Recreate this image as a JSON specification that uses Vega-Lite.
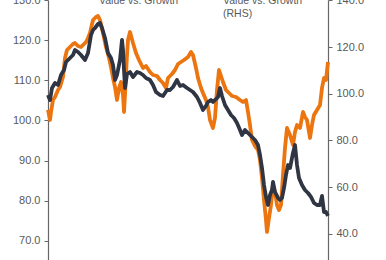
{
  "$schema": "https://vega.github.io/schema/vega-lite/v6.json",
  "width": 280,
  "height": 260,
  "autosize": {"type": "none"},
  "padding": {"left": 48, "right": 58, "top": 0, "bottom": 0},
  "background": "white",
  "config": {
    "view": {"stroke": null},
    "axis": {"labelFont": "Liberation Sans", "labelFontSize": 11, "labelColor": "#595959", "domainColor": "#666666", "tickColor": "#666666", "tickSize": 4, "labelPadding": 4, "grid": false, "title": null, "domainWidth": 1.2}
  },
  "datasets": {
    "lhs": [
      {"year": 2007.0, "value": 106.36}, {"year": 2007.1, "value": 105.11}, {"year": 2007.2, "value": 108.11}, {"year": 2007.35, "value": 109.36},
      {"year": 2007.5, "value": 108.86}, {"year": 2007.65, "value": 111.35}, {"year": 2007.8, "value": 112.6}, {"year": 2007.9, "value": 114.6},
      {"year": 2008.1, "value": 115.6}, {"year": 2008.25, "value": 116.34}, {"year": 2008.35, "value": 117.59}, {"year": 2008.5, "value": 117.09},
      {"year": 2008.65, "value": 116.34}, {"year": 2008.85, "value": 115.1}, {"year": 2009.0, "value": 116.84}, {"year": 2009.15, "value": 121.34},
      {"year": 2009.25, "value": 122.58}, {"year": 2009.35, "value": 123.08}, {"year": 2009.5, "value": 124.08}, {"year": 2009.6, "value": 124.33},
      {"year": 2009.7, "value": 123.08}, {"year": 2009.85, "value": 120.59}, {"year": 2010.0, "value": 116.84}, {"year": 2010.15, "value": 115.6},
      {"year": 2010.25, "value": 113.85}, {"year": 2010.35, "value": 110.11}, {"year": 2010.45, "value": 111.35}, {"year": 2010.6, "value": 115.1},
      {"year": 2010.7, "value": 120.09}, {"year": 2010.75, "value": 117.59}, {"year": 2010.8, "value": 112.6}, {"year": 2010.85, "value": 108.11},
      {"year": 2010.95, "value": 111.6}, {"year": 2011.1, "value": 112.1}, {"year": 2011.25, "value": 110.85}, {"year": 2011.45, "value": 112.1},
      {"year": 2011.6, "value": 111.85}, {"year": 2011.75, "value": 111.35}, {"year": 2011.9, "value": 110.6}, {"year": 2012.1, "value": 110.11},
      {"year": 2012.25, "value": 108.86}, {"year": 2012.4, "value": 107.11}, {"year": 2012.6, "value": 106.36}, {"year": 2012.75, "value": 106.11},
      {"year": 2012.95, "value": 107.61}, {"year": 2013.1, "value": 107.61}, {"year": 2013.25, "value": 108.36}, {"year": 2013.45, "value": 110.11},
      {"year": 2013.6, "value": 108.61}, {"year": 2013.75, "value": 108.86}, {"year": 2013.95, "value": 108.11}, {"year": 2014.1, "value": 107.61},
      {"year": 2014.25, "value": 107.11}, {"year": 2014.45, "value": 105.86}, {"year": 2014.6, "value": 104.37}, {"year": 2014.75, "value": 102.62},
      {"year": 2014.9, "value": 103.62}, {"year": 2015.0, "value": 104.61}, {"year": 2015.15, "value": 105.11}, {"year": 2015.25, "value": 104.61},
      {"year": 2015.4, "value": 105.36}, {"year": 2015.5, "value": 105.86}, {"year": 2015.6, "value": 108.11}, {"year": 2015.7, "value": 106.11},
      {"year": 2015.85, "value": 103.87}, {"year": 2016.0, "value": 102.62}, {"year": 2016.15, "value": 101.37}, {"year": 2016.3, "value": 100.62},
      {"year": 2016.45, "value": 99.37}, {"year": 2016.6, "value": 97.63}, {"year": 2016.7, "value": 96.38}, {"year": 2016.85, "value": 97.63},
      {"year": 2017.0, "value": 96.88}, {"year": 2017.2, "value": 95.88}, {"year": 2017.35, "value": 95.13}, {"year": 2017.5, "value": 93.88},
      {"year": 2017.6, "value": 91.39}, {"year": 2017.7, "value": 88.14}, {"year": 2017.8, "value": 83.9}, {"year": 2017.9, "value": 80.91},
      {"year": 2018.0, "value": 78.91}, {"year": 2018.1, "value": 81.41}, {"year": 2018.2, "value": 82.65}, {"year": 2018.25, "value": 84.65},
      {"year": 2018.35, "value": 82.15}, {"year": 2018.5, "value": 80.66}, {"year": 2018.6, "value": 80.16}, {"year": 2018.7, "value": 80.66},
      {"year": 2018.8, "value": 83.15}, {"year": 2018.9, "value": 86.4}, {"year": 2019.0, "value": 88.89}, {"year": 2019.1, "value": 88.14},
      {"year": 2019.25, "value": 91.89}, {"year": 2019.35, "value": 93.88}, {"year": 2019.45, "value": 88.89}, {"year": 2019.55, "value": 85.65},
      {"year": 2019.7, "value": 83.9}, {"year": 2019.85, "value": 82.65}, {"year": 2020.0, "value": 81.9}, {"year": 2020.15, "value": 80.91},
      {"year": 2020.3, "value": 79.41}, {"year": 2020.45, "value": 78.91}, {"year": 2020.6, "value": 78.91}, {"year": 2020.7, "value": 81.16},
      {"year": 2020.8, "value": 77.16}, {"year": 2020.9, "value": 77.16}, {"year": 2021.0, "value": 76.17}
    ],
    "rhs": [
      {"year": 2007.0, "value": 93.02}, {"year": 2007.1, "value": 88.73}, {"year": 2007.15, "value": 92.16}, {"year": 2007.25, "value": 97.3},
      {"year": 2007.35, "value": 98.59}, {"year": 2007.5, "value": 101.58}, {"year": 2007.6, "value": 102.87}, {"year": 2007.75, "value": 107.15},
      {"year": 2007.85, "value": 115.29}, {"year": 2007.95, "value": 118.72}, {"year": 2008.1, "value": 120.01}, {"year": 2008.25, "value": 121.29},
      {"year": 2008.35, "value": 121.72}, {"year": 2008.5, "value": 120.43}, {"year": 2008.65, "value": 120.01}, {"year": 2008.8, "value": 121.29},
      {"year": 2008.9, "value": 122.15}, {"year": 2009.0, "value": 123.86}, {"year": 2009.1, "value": 126.0}, {"year": 2009.25, "value": 131.57},
      {"year": 2009.4, "value": 132.86}, {"year": 2009.5, "value": 133.29}, {"year": 2009.6, "value": 131.57}, {"year": 2009.75, "value": 126.0},
      {"year": 2009.9, "value": 120.01}, {"year": 2010.05, "value": 115.29}, {"year": 2010.15, "value": 111.44}, {"year": 2010.25, "value": 106.72},
      {"year": 2010.35, "value": 102.87}, {"year": 2010.45, "value": 97.3}, {"year": 2010.55, "value": 102.44}, {"year": 2010.65, "value": 105.01},
      {"year": 2010.75, "value": 99.44}, {"year": 2010.8, "value": 92.16}, {"year": 2010.85, "value": 99.44}, {"year": 2010.95, "value": 116.58},
      {"year": 2011.0, "value": 123.0}, {"year": 2011.1, "value": 126.43}, {"year": 2011.25, "value": 121.72}, {"year": 2011.4, "value": 117.43},
      {"year": 2011.55, "value": 114.44}, {"year": 2011.75, "value": 111.01}, {"year": 2011.9, "value": 111.87}, {"year": 2012.1, "value": 109.3},
      {"year": 2012.25, "value": 108.01}, {"year": 2012.45, "value": 107.58}, {"year": 2012.6, "value": 105.87}, {"year": 2012.75, "value": 104.58},
      {"year": 2012.9, "value": 102.44}, {"year": 2013.0, "value": 106.72}, {"year": 2013.2, "value": 108.44}, {"year": 2013.35, "value": 110.15},
      {"year": 2013.5, "value": 112.72}, {"year": 2013.65, "value": 113.58}, {"year": 2013.8, "value": 114.44}, {"year": 2014.0, "value": 115.72},
      {"year": 2014.15, "value": 117.86}, {"year": 2014.25, "value": 116.58}, {"year": 2014.4, "value": 111.01}, {"year": 2014.5, "value": 106.72},
      {"year": 2014.65, "value": 102.44}, {"year": 2014.75, "value": 100.3}, {"year": 2014.9, "value": 97.3}, {"year": 2015.0, "value": 94.3},
      {"year": 2015.1, "value": 88.73}, {"year": 2015.25, "value": 85.3}, {"year": 2015.35, "value": 89.59}, {"year": 2015.45, "value": 101.58},
      {"year": 2015.55, "value": 110.15}, {"year": 2015.65, "value": 107.58}, {"year": 2015.75, "value": 105.01}, {"year": 2015.9, "value": 101.58},
      {"year": 2016.05, "value": 100.3}, {"year": 2016.2, "value": 99.01}, {"year": 2016.4, "value": 98.59}, {"year": 2016.6, "value": 97.3},
      {"year": 2016.75, "value": 96.44}, {"year": 2016.9, "value": 97.3}, {"year": 2017.0, "value": 92.16}, {"year": 2017.1, "value": 86.59},
      {"year": 2017.2, "value": 80.16}, {"year": 2017.35, "value": 77.59}, {"year": 2017.5, "value": 75.88}, {"year": 2017.6, "value": 71.6},
      {"year": 2017.7, "value": 63.88}, {"year": 2017.8, "value": 54.46}, {"year": 2017.9, "value": 45.89}, {"year": 2017.95, "value": 40.75},
      {"year": 2018.05, "value": 46.75}, {"year": 2018.15, "value": 52.32}, {"year": 2018.25, "value": 60.89}, {"year": 2018.35, "value": 57.89},
      {"year": 2018.45, "value": 52.32}, {"year": 2018.55, "value": 50.18}, {"year": 2018.65, "value": 52.32}, {"year": 2018.75, "value": 65.17},
      {"year": 2018.85, "value": 76.74}, {"year": 2018.95, "value": 85.3}, {"year": 2019.1, "value": 82.31}, {"year": 2019.25, "value": 78.02},
      {"year": 2019.35, "value": 83.59}, {"year": 2019.45, "value": 86.59}, {"year": 2019.6, "value": 85.3}, {"year": 2019.75, "value": 92.16},
      {"year": 2019.85, "value": 90.02}, {"year": 2019.95, "value": 88.73}, {"year": 2020.1, "value": 81.02}, {"year": 2020.2, "value": 86.59},
      {"year": 2020.3, "value": 90.87}, {"year": 2020.45, "value": 93.02}, {"year": 2020.6, "value": 95.16}, {"year": 2020.7, "value": 102.44},
      {"year": 2020.8, "value": 106.72}, {"year": 2020.9, "value": 105.87}, {"year": 2021.0, "value": 113.58}
    ],
    "labels": [
      {"year": 2009.55, "value": 129.07, "label": "Value vs. Growth"},
      {"year": 2015.75, "value": 129.07, "label": "Value vs. Growth\n(RHS)"}
    ]
  },
  "layer": [
    {
      "data": {"name": "rhs"},
      "mark": {"type": "line", "color": "#EC7510", "strokeWidth": 3.8, "strokeJoin": "round"},
      "encoding": {
        "x": {"field": "year", "type": "quantitative", "scale": {"domain": [2007, 2021], "nice": false, "zero": false}, "axis": null},
        "y": {"field": "value", "type": "quantitative", "scale": {"domain": [28.74, 140.14], "nice": false, "zero": false},
              "axis": {"orient": "right", "values": [40, 60, 80, 100, 120, 140], "format": ".1f"}}
      }
    },
    {
      "data": {"name": "lhs"},
      "mark": {"type": "line", "color": "#2F3542", "strokeWidth": 3.8, "strokeJoin": "round"},
      "encoding": {
        "x": {"field": "year", "type": "quantitative", "scale": {"domain": [2007, 2021], "nice": false, "zero": false}, "axis": null},
        "y": {"field": "value", "type": "quantitative", "scale": {"domain": [65.18, 130.07], "nice": false, "zero": false},
              "axis": {"orient": "left", "values": [70, 80, 90, 100, 110, 120, 130], "format": ".1f"}}
      }
    },
    {
      "data": {"name": "labels"},
      "mark": {"type": "text", "align": "left", "baseline": "alphabetic", "font": "Liberation Sans", "fontSize": 10.5, "color": "#595959", "lineBreak": "\n", "lineHeight": 12.5},
      "encoding": {
        "x": {"field": "year", "type": "quantitative", "scale": {"domain": [2007, 2021], "nice": false, "zero": false}, "axis": null},
        "y": {"field": "value", "type": "quantitative", "scale": {"domain": [65.18, 130.07], "nice": false, "zero": false}, "axis": null},
        "text": {"field": "label"}
      }
    }
  ],
  "resolve": {"scale": {"y": "independent"}}
}
